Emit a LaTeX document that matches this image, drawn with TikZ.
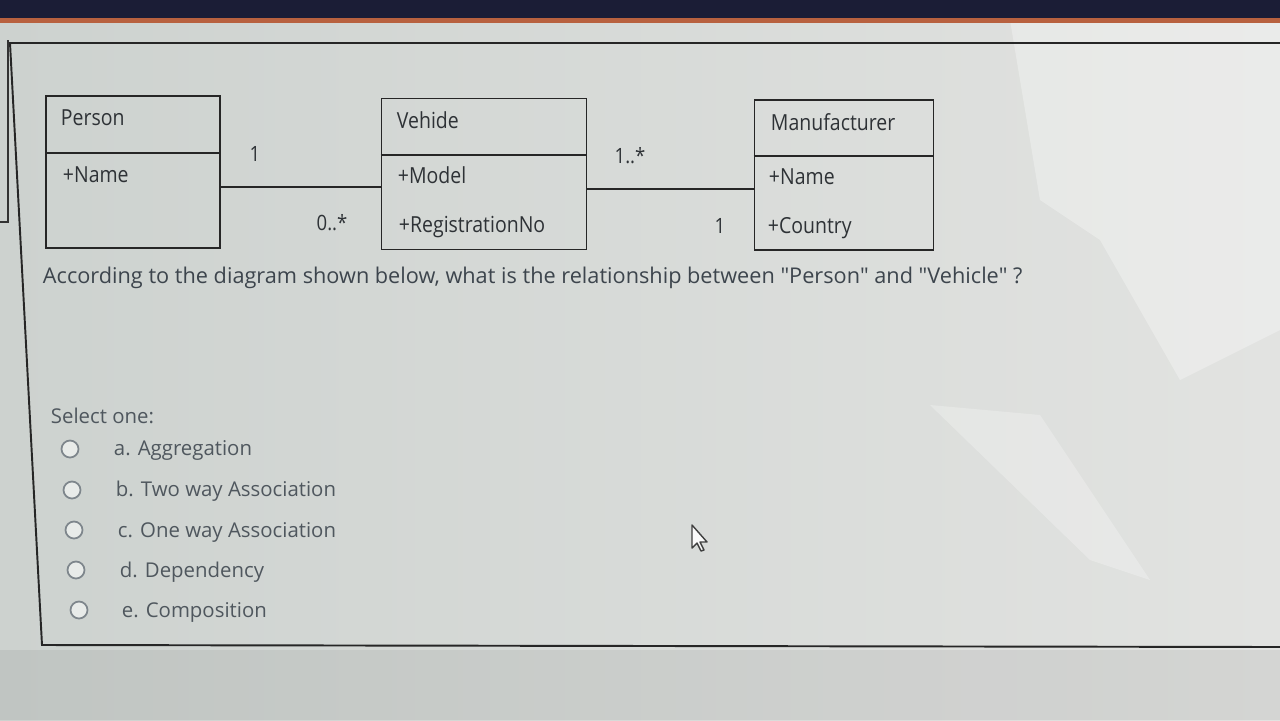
\documentclass[tikz,border=0pt]{standalone}
\usepackage{fontspec}
\setmainfont{Open Sans}
\newfontfamily\umlfont[FakeStretch=0.88]{Open Sans}

\definecolor{screenL}{HTML}{CDD2CF}
\definecolor{screenR}{HTML}{E2E3E1}
\definecolor{topband}{HTML}{1B1D36}
\definecolor{topline}{HTML}{B8613F}
\definecolor{umlgrey}{HTML}{2E3236}
\definecolor{qgrey}{HTML}{3D454D}
\definecolor{optgrey}{HTML}{4F575E}
\definecolor{radiogrey}{HTML}{7E868C}

\tikzset{
  umlbox/.style={draw=black!85, line width=1.1pt, inner sep=0pt},
  umltext/.style={anchor=west, inner sep=0pt, text=umlgrey, font=\umlfont\fontsize{12.6}{14}\selectfont},
  multlabel/.style={inner sep=0pt, text=umlgrey, font=\umlfont\fontsize{12}{14}\selectfont},
  radio/.style={circle, draw=radiogrey, line width=1pt, minimum size=0.34cm, inner sep=0pt, fill=white!55!screenL},
  optiontext/.style={anchor=west, inner sep=0pt, text=optgrey, font=\fontsize{11.6}{13}\selectfont}
}

\begin{document}
\begin{tikzpicture}[x=0.02cm, y=-0.02cm, line width=1.1pt]
  \useasboundingbox (0,0) rectangle (1280,720);
  % screen
  \shade[left color=screenL, right color=screenR] (0,0) rectangle (1280,720);
  \fill[black, opacity=0.06] (0,650) rectangle (1280,720);
  \fill[white, opacity=0.3] (1010,20) -- (1280,20) -- (1280,330) -- (1180,380) -- (1100,240) -- (1040,200) -- cycle;
  \fill[white, opacity=0.25] (930,405) -- (1040,415) -- (1150,580) -- (1090,560) -- cycle;
  \fill[topband] (0,0) rectangle (1280,18);
  \fill[topline] (0,18) rectangle (1280,23);
  % panel frame
  \draw[black!80] (8,40) -- (8,222) -- (0,222);
  \draw[black!85] (1280,43) -- (10,43) -- (42,645) -- (1280,647);

  % classes
  \node[umlbox, minimum width=3.48cm, minimum height=3.04cm] (person) at (133,172) {};
  \node[umlbox, minimum width=4.10cm, minimum height=3.02cm] (vehicle) at (484,174) {};
  \node[umlbox, minimum width=3.58cm, minimum height=3.00cm] (maker) at (844,175) {};
  \draw[black!85] (person.west |- 0,153) -- (person.east |- 0,153);
  \draw[black!85] (vehicle.west |- 0,155) -- (vehicle.east |- 0,155);
  \draw[black!85] (maker.west |- 0,156) -- (maker.east |- 0,156);

  \node[umltext] (personname) at (60,118) {Person};
  \node[umltext] (personattr) at (62,175) {+Name};
  \node[umltext] (vehiclename) at (396,120) {Vehide};
  \node[umltext] (vehiclemodel) at (397,175) {+Model};
  \node[umltext] (vehiclereg) at (398,227) {+RegistrationNo};
  \node[umltext] (makername) at (770,122) {Manufacturer};
  \node[umltext] (makerattr) at (768,177) {+Name};
  \node[umltext] (makercountry) at (767,228) {+Country};

  % associations
  \draw[black!85] (person.east |- 0,187) -- (vehicle.west |- 0,187);
  \draw[black!85] (vehicle.east |- 0,189) -- (maker.west |- 0,189);
  \node[multlabel] (m1) at (255,154) {1};
  \node[multlabel] (m2) at (332,223) {0..*};
  \node[multlabel] (m3) at (630,156) {1..*};
  \node[multlabel] (m4) at (720,226) {1};

  % question
  \node[anchor=west, inner sep=0pt, text=qgrey, font=\fontsize{12.35}{14}\selectfont] (question) at (42,278)
    {According to the diagram shown below, what is the relationship between \textquotedbl Person\textquotedbl{} and \textquotedbl Vehicle\textquotedbl{} ?};
  \node[optiontext] (select) at (50,416) {Select one:};

  \node[radio] (ra) at (70,449) {};
  \node[radio] (rb) at (72,490) {};
  \node[radio] (rc) at (74,530) {};
  \node[radio] (rd) at (76,570) {};
  \node[radio] (re) at (79,610) {};
  \node[optiontext] (oa) at (113,450) {a. Aggregation};
  \node[optiontext] (ob) at (115,491) {b. Two way Association};
  \node[optiontext] (oc) at (117,532) {c. One way Association};
  \node[optiontext] (od) at (119,572) {d. Dependency};
  \node[optiontext] (oe) at (121,612) {e. Composition};

  % mouse pointer
  \draw[line width=0.8pt, draw=black!75, fill=white!90!screenL, line join=round]
    (692,525) -- (692,548) -- (697,543) -- (701,551) -- (704,550) -- (700,542) -- (707,542) -- cycle;
\end{tikzpicture}
\end{document}
